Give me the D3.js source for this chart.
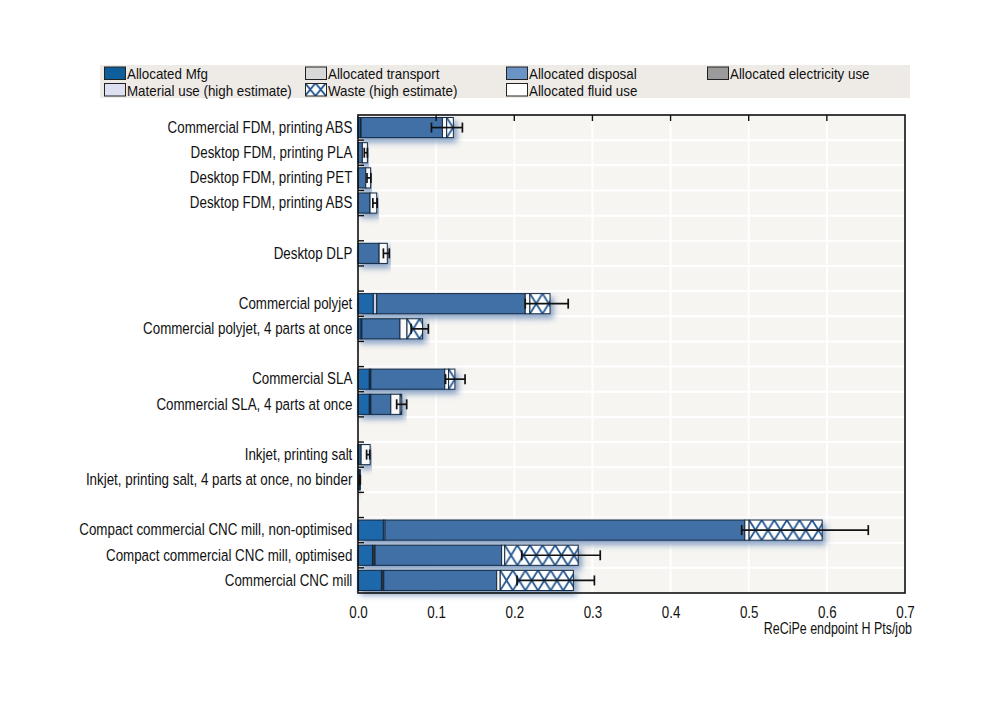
<!DOCTYPE html>
<html><head><meta charset="utf-8">
<script src="https://cdn.jsdelivr.net/npm/d3@7"></script>
<style>
body{margin:0;background:#fff;}
svg{display:block;font-family:"Liberation Sans","Arial",sans-serif;}
</style></head>
<body><svg id="c" width="1000" height="702"></svg>
<script>
// ---------- data ----------
const slots = ["Commercial FDM, printing ABS","Desktop FDM, printing PLA","Desktop FDM, printing PET","Desktop FDM, printing ABS","gap1",
 "Desktop DLP","gap2","Commercial polyjet","Commercial polyjet, 4 parts at once","gap3",
 "Commercial SLA","Commercial SLA, 4 parts at once","gap4","Inkjet, printing salt","Inkjet, printing salt, 4 parts at once, no binder","gap5",
 "Compact commercial CNC mill, non-optimised","Compact commercial CNC mill, optimised","Commercial CNC mill"];
const categories = slots.filter(s => !s.startsWith("gap"));
const seriesNames = ["Allocated Mfg","Allocated transport","Allocated electricity use","Allocated disposal","Material use (high estimate)","Allocated fluid use","Waste (high estimate)"];
// values per category (same order as categories)
const mfg         = [0.003,0,0,0,0,0.0196,0.004,0.0145,0.0145,0.001,0.002,0.0325,0.0185,0.030];
const transport   = [0,0,0,0,0,0.0044,0,0,0,0,0,0.002,0,0];
const electricity = [0.001,0,0,0,0,0,0.001,0.002,0.002,0,0,0,0.0033,0.003];
const disposal    = [0.104,0.0056,0.0099,0.0154,0.027,0.190,0.0487,0.0945,0.0255,0.003,0.001,0.4605,0.162,0.1445];
const material    = [0,0,0,0,0,0,0,0,0,0,0,0,0,0];
const fluid       = [0.0055,0.0064,0.0063,0.0086,0.0105,0.006,0.009,0.005,0.012,0.0115,0,0.0055,0.004,0.0045];
const waste       = [0.0085,0,0,0,0,0.0257,0.020,0.008,0.002,0,0,0.0935,0.094,0.0936];
const errLow      = [0.094,0.008,0.0115,0.019,0.0325,0.214,0.068,0.112,0.0495,0.011,0.002,0.491,0.2095,0.2035];
const errHigh     = [0.1336,0.012,0.0165,0.0245,0.040,0.269,0.090,0.137,0.0623,0.015,0.003,0.653,0.310,0.3025];
const xTicks = [0,0.1,0.2,0.3,0.4,0.5,0.6,0.7];
const xTitle = "ReCiPe endpoint H Pts/job";

const seriesValues = [mfg,transport,electricity,disposal,material,fluid,waste];
const barColors = ["#1d67ab","#c8d2e2","#333333","#4170a6","#dcdff0","#f9f9f9","hatch"];
// legend layout order
const legendOrder = ["Allocated Mfg","Allocated transport","Allocated disposal","Allocated electricity use","Material use (high estimate)","Waste (high estimate)","Allocated fluid use"];
const legendSwatch = {"Allocated Mfg":"#0f5e9c","Allocated transport":"#d8d8d8","Allocated disposal":"#6a93c6","Allocated electricity use":"#9b9b9b","Material use (high estimate)":"#dde0f0","Waste (high estimate)":"hatch","Allocated fluid use":"#ffffff"};

// ---------- layout ----------
const NARROW = 0.81, FS = 16.5;
const svg = d3.select("#c");
const L = 358, R = 905, T = 115, B = 593;
const x = d3.scaleLinear().domain([0,0.7]).range([L,R]);
const y = d3.scaleBand().domain(slots).range([T,B]).paddingInner(0.2).paddingOuter(0.1);
const step = y.step();

function narrowText(parent, tx, ty, str, anchor, fs, sc){
  return parent.append("text").attr("transform",`translate(${tx},${ty}) scale(${sc||NARROW},1)`)
    .attr("text-anchor",anchor||"start").attr("font-size",fs||FS).attr("fill","#111").text(str);
}

const defs = svg.append("defs");
const f = defs.append("filter").attr("id","shadow").attr("x","-5%").attr("y","-40%").attr("width","115%").attr("height","200%");
f.append("feDropShadow").attr("dx",3).attr("dy",4).attr("stdDeviation",3).attr("flood-color","#2a5a9a").attr("flood-opacity",0.6);

function hatchPattern(id, px, py, w, h){
  const p = defs.append("pattern").attr("id",id).attr("patternUnits","userSpaceOnUse")
    .attr("x",px).attr("y",py).attr("width",w).attr("height",h);
  p.append("rect").attr("width",w).attr("height",h).attr("fill","#fff");
  p.append("path").attr("d",`M0,0L${w},${h}M${w},0L0,${h}`).attr("stroke","#22558f").attr("stroke-width",1.8).attr("fill","none");
  return `url(#${id})`;
}

// legend
svg.append("rect").attr("x",100).attr("y",65).attr("width",810).attr("height",33).attr("fill","#eeebe7");
const legCols = [104,305,506,707], legRows = [66.5,83];
legendOrder.forEach((name,i)=>{
  const cx = legCols[i%4], cy = legRows[Math.floor(i/4)];
  let fill = legendSwatch[name];
  if(fill==="hatch") fill = hatchPattern("legHatch",cx,cy,10.5,13);
  svg.append("rect").attr("x",cx+0.5).attr("y",cy+0.5).attr("width",21).attr("height",12.5)
    .attr("fill",fill).attr("stroke","#222").attr("stroke-width",1);
  narrowText(svg, cx+23, cy+12.5, name, "start", 14, 0.955);
});

// plot background
svg.append("rect").attr("x",L).attr("y",T).attr("width",R-L).attr("height",B-T).attr("fill","#f7f5f2");
// grid
svg.append("g").selectAll("line").data(xTicks.slice(1,-1)).join("line")
  .attr("x1",d=>x(d)).attr("x2",d=>x(d)).attr("y1",T).attr("y2",B).attr("stroke","#fff").attr("stroke-width",2);
const bounds = d3.range(1,slots.length).map(i=>T+i*step);
svg.append("g").selectAll("line").data(bounds).join("line")
  .attr("x1",L).attr("x2",R).attr("y1",d=>d).attr("y2",d=>d).attr("stroke","#fff").attr("stroke-width",2);

// bars
const bars = svg.append("g");
categories.forEach((cat,ci)=>{
  const g = bars.append("g").attr("filter","url(#shadow)");
  const by = y(cat), bh = y.bandwidth();
  let acc = 0;
  seriesValues.forEach((vals,si)=>{
    const v = vals[ci];
    if(v<=0) return;
    let fill = barColors[si];
    if(fill==="hatch") fill = hatchPattern("h"+ci, x(acc), by, 12.6, bh);
    g.append("rect").attr("x",x(acc)).attr("y",by).attr("width",x(acc+v)-x(acc)).attr("height",bh)
      .attr("fill",fill).attr("stroke","#14283f").attr("stroke-width",1);
    acc += v;
  });
});
// error bars
const eb = svg.append("g").attr("stroke","#111").attr("stroke-width",1.7);
categories.forEach((cat,ci)=>{
  const cy = y(cat)+y.bandwidth()/2;
  eb.append("line").attr("x1",x(errLow[ci])).attr("x2",x(errHigh[ci])).attr("y1",cy).attr("y2",cy);
  [errLow[ci],errHigh[ci]].forEach(v=>eb.append("line").attr("x1",x(v)).attr("x2",x(v)).attr("y1",cy-5).attr("y2",cy+5));
});

// frame
svg.append("rect").attr("x",L).attr("y",T).attr("width",R-L).attr("height",B-T).attr("fill","none").attr("stroke","#111").attr("stroke-width",1.6);
// top ticks inward
svg.append("g").selectAll("line").data(xTicks.slice(1,-1)).join("line")
  .attr("x1",d=>x(d)).attr("x2",d=>x(d)).attr("y1",T).attr("y2",T+6).attr("stroke","#111").attr("stroke-width",1.4);
// left ticks inward at slot boundaries
svg.append("g").selectAll("line").data(bounds).join("line")
  .attr("x1",L).attr("x2",L+6).attr("y1",d=>d).attr("y2",d=>d).attr("stroke","#111").attr("stroke-width",1.4);

// bottom axis labels
const xAxis = d3.axisBottom(x).tickValues(xTicks).tickFormat(d3.format(".1f")).tickSize(0).tickPadding(13);
const ax = svg.append("g").attr("transform",`translate(0,${B})`).call(xAxis);
ax.select(".domain").remove();
ax.selectAll("text").attr("font-size",FS).attr("fill","#111").attr("font-family",null)
  .attr("transform",`scale(${NARROW},1)`);

narrowText(svg, 912, 634, xTitle, "end", 16, 0.78);

// y labels
const yAxis = d3.axisLeft(y).tickValues(categories).tickSize(0).tickPadding(7);
const ay = svg.append("g").attr("transform",`translate(${L},0)`).call(yAxis);
ay.select(".domain").remove();
ay.selectAll("text").attr("font-size",FS).attr("fill","#111").attr("font-family",null)
  .attr("transform",`scale(${NARROW},1)`);
</script></body></html>
